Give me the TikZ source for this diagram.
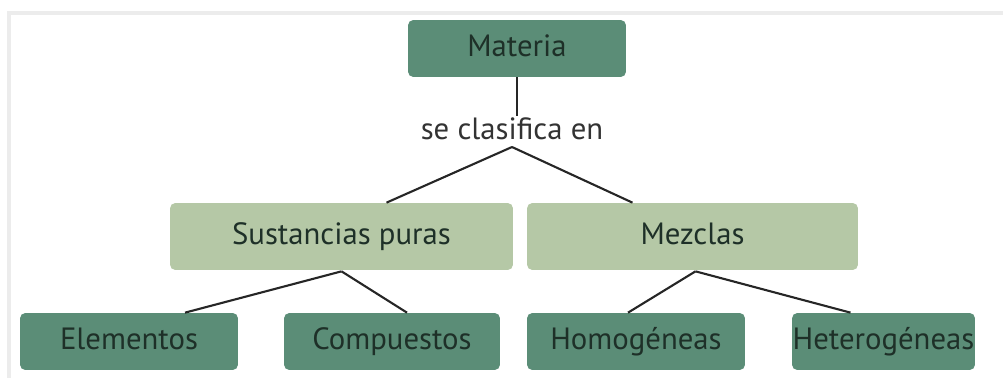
\documentclass[tikz,border=0pt]{standalone}
\usepackage{fontspec}
\setmainfont{PT Sans}
\usepackage{tikz}
\usetikzlibrary{positioning, calc}
\definecolor{darkbox}{RGB}{91,141,119}
\definecolor{lightbox}{RGB}{181,200,166}
\definecolor{boxtext}{RGB}{30,48,40}
\definecolor{frameline}{RGB}{236,236,236}
\tikzset{
  concept/.style={
    rectangle, rounded corners=3pt, draw=none, inner sep=0pt,
    font=\fontsize{17.5}{20}\selectfont, text=boxtext,
    text height=2.3ex, text depth=0.4ex
  },
  top/.style={concept, fill=darkbox, minimum width=4.36cm, minimum height=1.14cm},
  group/.style={concept, fill=lightbox, minimum height=1.34cm},
  leaf/.style={concept, fill=darkbox, minimum height=1.14cm},
  link/.style={draw=black!85, line width=1.2pt},
  linkword/.style={font=\fontsize{17.5}{20}\selectfont, text=black!80, inner sep=1pt},
}

\begin{document}
\begin{tikzpicture}[x=0.02cm, y=-0.02cm]
  \useasboundingbox (0,0) rectangle (1003,378);
  % faint page frame
  \draw[frameline, line width=2pt] (9,378) -- (9,13) -- (1003,13);

  \node[top] (materia) at (517,48.5) {Materia};
  \node[linkword] (clasif) at (512,129) {se clasifica en};
  \coordinate (fork) at (512,147);

  \node[group, minimum width=6.86cm] (sust) at (341.5,236.5) {Sustancias puras};
  \node[group, minimum width=6.62cm] (mezclas) at (692.5,236.5) {Mezclas};

  \node[leaf, minimum width=4.36cm] (elem) at (129,341.5) {Elementos};
  \node[leaf, minimum width=4.32cm] (comp) at (392,341.5) {Compuestos};
  \node[leaf, minimum width=4.36cm] (homo) at (636,341.5) {Homogéneas};
  \node[leaf, minimum width=3.66cm] (hetero) at (883.5,341.5) {Heterogéneas};

  \draw[link] (materia.south) -- (materia.south |- clasif.north);
  \draw[link] (fork) -- ($(sust.north)+(45,0)$);
  \draw[link] (fork) -- ($(mezclas.north)+(-60,0)$);

  \draw[link] ($(sust.south)+(0,1)$) -- ($(elem.north)+(56,0)$);
  \draw[link] ($(sust.south)+(0,1)$) -- ($(comp.north)+(15,0)$);
  \draw[link] ($(mezclas.south)+(3,1)$) -- ($(homo.north)+(-8,0)$);
  \draw[link] ($(mezclas.south)+(3,1)$) -- ($(hetero.north)+(-33,0)$);
\end{tikzpicture}
\end{document}
